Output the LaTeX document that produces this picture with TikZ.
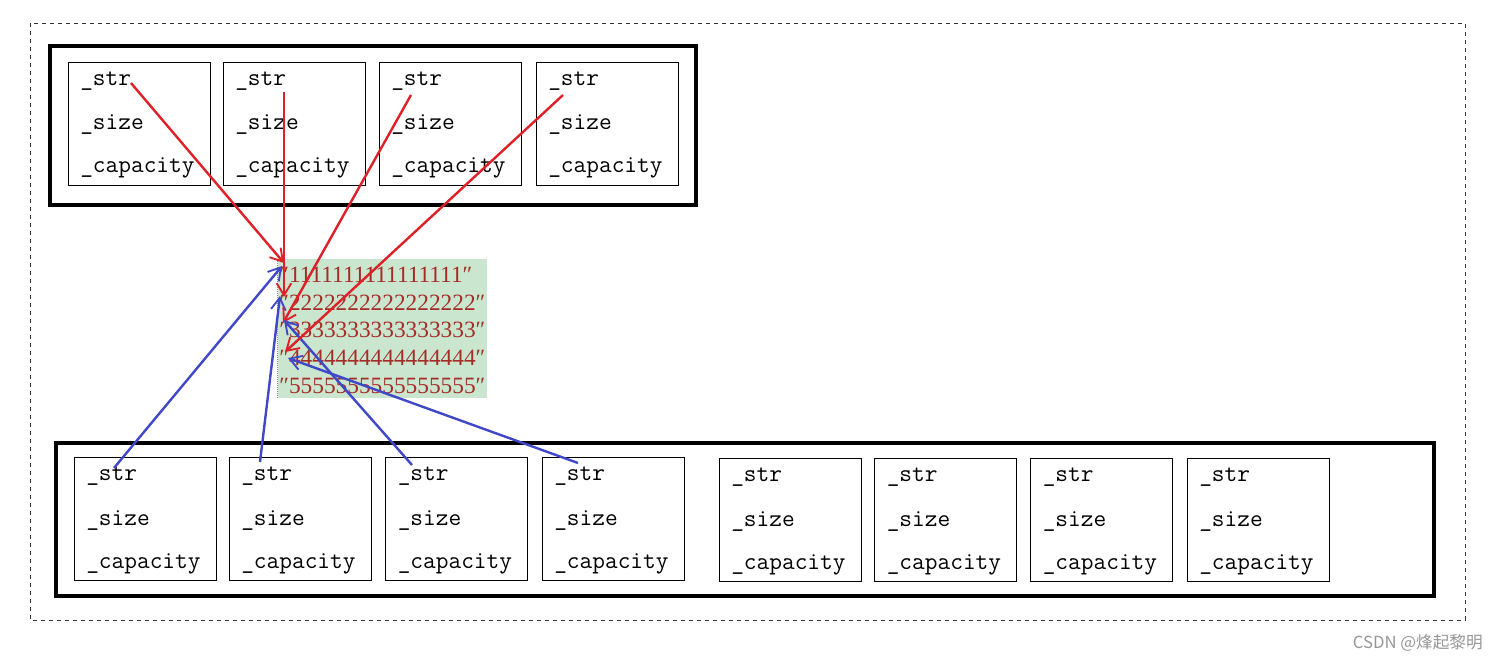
\documentclass[tikz,border=0pt]{standalone}
\usepackage{fontspec}
\setmainfont{Liberation Serif}
\newfontfamily\cjk{Noto Sans CJK SC}
\newfontfamily\strfont{Liberation Serif}
\usetikzlibrary{arrows.meta}
\definecolor{redline}{RGB}{222,32,40}
\definecolor{blueline}{RGB}{64,72,200}
\definecolor{greenbg}{RGB}{202,230,206}
\definecolor{strtext}{RGB}{165,45,40}
\definecolor{wm}{RGB}{150,150,150}
\tikzset{
  outerbox/.style={draw, line width=2.3pt},
  membox/.style={draw, line width=0.75pt, minimum width=106.5pt, minimum height=92.25pt, inner sep=0pt},
  field/.style={anchor=west, inner sep=0pt, font=\ttfamily\fontsize{18.5pt}{20pt}\selectfont},
  strline/.style={anchor=west, inner sep=0pt, text=strtext, font=\strfont\fontsize{17.5pt}{19pt}\selectfont},
  redarrow/.style={draw=redline, line width=1.8pt, -{Straight Barb[length=9pt,width=11pt,line width=1.4pt]}},
  bluearrow/.style={draw=blueline, line width=1.8pt, -{Straight Barb[length=9pt,width=11pt,line width=1.4pt]}},
}
\begin{document}
\begin{tikzpicture}[x=0.75pt,y=-0.75pt]
\useasboundingbox (0,0) rectangle (1498,662);
% outer dashed frame
\draw[dashed, line width=0.6pt, draw=black!80] (30,23) rectangle (1465,620);
% top group
\node[outerbox, minimum width=484.5pt, minimum height=119.25pt, inner sep=0pt] (top) at (373,125.5) {};
\foreach \i/\x in {1/139,2/294,3/450,4/607}{
  \node[membox] (tb\i) at (\x,123.5) {};
  \node[field] (tstr\i) at (\x-59,81) {\_str};
  \node[field] (tsize\i) at (\x-59,125) {\_size};
  \node[field] (tcap\i) at (\x-59,168) {\_capacity};
}
% bottom group
\node[outerbox, minimum width=1033.5pt, minimum height=114.75pt, inner sep=0pt] (bot) at (745,519.5) {};
\foreach \i/\x/\y in {1/145/518.5,2/300/518.5,3/456.5/518.5,4/613/518.5,5/790/519.5,6/945.5/519.5,7/1101.5/519.5,8/1258/519.5}{
  \node[membox] (bb\i) at (\x,\y) {};
  \node[field] (bstr\i) at (\x-59,\y-42) {\_str};
  \node[field] (bsize\i) at (\x-59,\y+2) {\_size};
  \node[field] (bcap\i) at (\x-59,\y+45) {\_capacity};
}
% string area
\node[fill=greenbg, minimum width=156.75pt, minimum height=104.25pt, inner sep=0pt] (green) at (382.5,328.5) {};
\draw[densely dotted, draw=black!45, line width=0.5pt] (green.north west) -- (green.south west);
\node[strline] (s1) at (279,275) {″1111111111111111″};
\node[strline] (s2) at (279,303) {″2222222222222222″};
\node[strline] (s3) at (279,330) {″3333333333333333″};
\node[strline] (s4) at (279,358) {″4444444444444444″};
\node[strline] (s5) at (279,386) {″5555555555555555″};
% arrow end points
\coordinate (ts1) at (131,83);
\coordinate (ts2) at (284,92);
\coordinate (ts3) at (411,95);
\coordinate (ts4) at (563,95);
\coordinate (rt1) at (284,263);
\coordinate (rt2) at (284,297);
\coordinate (rt3) at (283,323);
\coordinate (rt4) at (285,352);
\coordinate (bs1) at (114,468);
\coordinate (bs2) at (260,462);
\coordinate (bs3) at (412,465);
\coordinate (bs4) at (578,463);
\coordinate (bt1) at (282,266);
\coordinate (bt2) at (280,296);
\coordinate (bt3) at (284,320);
\coordinate (bt4) at (288,358);
\foreach \i in {1,...,4}{
  \draw[redarrow] (ts\i) -- (rt\i);
  \draw[bluearrow] (bs\i) -- (bt\i);
}
% watermark
\node[anchor=east, inner sep=0pt, text=wm, font=\cjk\fontsize{12.5pt}{14pt}\selectfont] (wmark) at (1483,643) {CSDN @烽起黎明};
\end{tikzpicture}
\end{document}
